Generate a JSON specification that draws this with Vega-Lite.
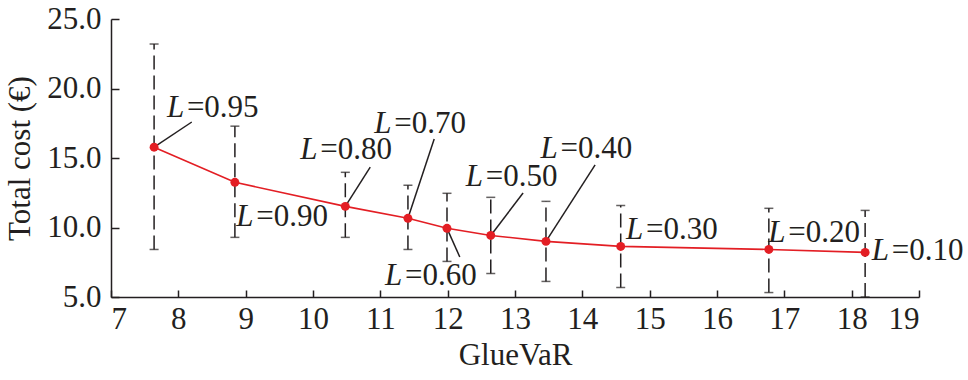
{
  "$schema": "https://vega.github.io/schema/vega-lite/v6.json",
  "width": 808,
  "height": 278,
  "autosize": {"type": "none"},
  "padding": {"left": 111, "top": 19, "right": 49, "bottom": 83},
  "background": "white",
  "config": {
    "view": {"stroke": null},
    "axis": {
      "grid": false,
      "domainColor": "#231f20",
      "domainWidth": 1.5,
      "tickColor": "#231f20",
      "tickWidth": 1.5,
      "labelFont": "Liberation Serif",
      "labelFontSize": 31,
      "labelColor": "#231f20",
      "titleFont": "Liberation Serif",
      "titleFontSize": 31,
      "titleFontWeight": "normal",
      "titleColor": "#231f20"
    }
  },
  "data": {
    "values": [
      {"L": "=0.95", "x": 7.64, "y": 15.78, "lo": 8.42, "hi": 23.2, "lx": 7.83, "ly": 17.95, "ex": 8.2, "ey": 17.59},
      {"L": "=0.90", "x": 8.84, "y": 13.25, "lo": 9.29, "hi": 17.29, "lx": 8.86, "ly": 10.11},
      {"L": "=0.80", "x": 10.48, "y": 11.52, "lo": 9.29, "hi": 13.97, "lx": 9.81, "ly": 14.93, "ex": 10.85, "ey": 14.35},
      {"L": "=0.70", "x": 11.41, "y": 10.66, "lo": 8.42, "hi": 13.04, "lx": 10.91, "ly": 16.8, "ex": 11.8, "ey": 16.37},
      {"L": "=0.60", "x": 11.99, "y": 9.94, "lo": 7.56, "hi": 12.46, "lx": 11.07, "ly": 5.86, "ex": 12.18, "ey": 7.88},
      {"L": "=0.50", "x": 12.64, "y": 9.43, "lo": 6.69, "hi": 12.17, "lx": 12.27, "ly": 12.99, "ex": 13.12, "ey": 12.48},
      {"L": "=0.40", "x": 13.46, "y": 9.0, "lo": 6.12, "hi": 11.88, "lx": 13.38, "ly": 15.0, "ex": 14.19, "ey": 14.5},
      {"L": "=0.30", "x": 14.57, "y": 8.64, "lo": 5.69, "hi": 11.59, "lx": 14.65, "ly": 9.17},
      {"L": "=0.20", "x": 16.77, "y": 8.42, "lo": 5.32, "hi": 11.38, "lx": 16.76, "ly": 8.96},
      {"L": "=0.10", "x": 18.2, "y": 8.21, "lo": 5.0, "hi": 11.23, "lx": 18.3, "ly": 7.66}
    ]
  },
  "layer": [
    {
      "mark": {"type": "rule", "color": "#231f20", "strokeWidth": 1.5, "strokeDash": [14, 6]},
      "encoding": {
        "x": {"field": "x", "type": "quantitative", "scale": {"domain": [7, 19], "nice": false, "zero": false},
          "axis": {"title": "GlueVaR", "values": [7,8,9,10,11,12,13,14,15,16,17,18,19], "format": "d", "labelOverlap": false, "tickSize": -7, "labelPadding": 14, "titlePadding": 6}},
        "y": {"field": "lo", "type": "quantitative", "scale": {"domain": [5, 25], "nice": false, "zero": false},
          "axis": {"title": "Total cost (€)", "values": [5,7.5,10,12.5,15,17.5,20,22.5,25], "format": ".1f", "labelOverlap": false, "tickSize": -8, "labelPadding": 18, "titlePadding": 10}},
        "y2": {"field": "hi"}
      }
    },
    {
      "mark": {"type": "tick", "orient": "horizontal", "color": "#231f20", "thickness": 1.5, "size": 9},
      "encoding": {
        "x": {"field": "x", "type": "quantitative"},
        "y": {"field": "hi", "type": "quantitative"}
      }
    },
    {
      "mark": {"type": "tick", "orient": "horizontal", "color": "#231f20", "thickness": 1.5, "size": 9},
      "encoding": {
        "x": {"field": "x", "type": "quantitative"},
        "y": {"field": "lo", "type": "quantitative"}
      }
    },
    {
      "transform": [{"filter": "isValid(datum.ex)"}],
      "mark": {"type": "rule", "color": "#231f20", "strokeWidth": 1.5},
      "encoding": {
        "x": {"field": "x", "type": "quantitative"},
        "y": {"field": "y", "type": "quantitative"},
        "x2": {"field": "ex"},
        "y2": {"field": "ey"}
      }
    },
    {
      "mark": {"type": "line", "color": "#e31e24", "strokeWidth": 1.6},
      "encoding": {
        "x": {"field": "x", "type": "quantitative"},
        "y": {"field": "y", "type": "quantitative"}
      }
    },
    {
      "mark": {"type": "point", "filled": true, "color": "#e31e24", "size": 80, "opacity": 1},
      "encoding": {
        "x": {"field": "x", "type": "quantitative"},
        "y": {"field": "y", "type": "quantitative"}
      }
    },
    {
      "mark": {"type": "text", "text": "L", "font": "Liberation Serif", "fontStyle": "italic", "fontSize": 31, "align": "left", "baseline": "alphabetic", "color": "#231f20"},
      "encoding": {
        "x": {"field": "lx", "type": "quantitative"},
        "y": {"field": "ly", "type": "quantitative"}
      }
    },
    {
      "mark": {"type": "text", "font": "Liberation Serif", "fontSize": 31, "align": "left", "baseline": "alphabetic", "dx": 20, "color": "#231f20"},
      "encoding": {
        "x": {"field": "lx", "type": "quantitative"},
        "y": {"field": "ly", "type": "quantitative"},
        "text": {"field": "L", "type": "nominal"}
      }
    }
  ]
}
